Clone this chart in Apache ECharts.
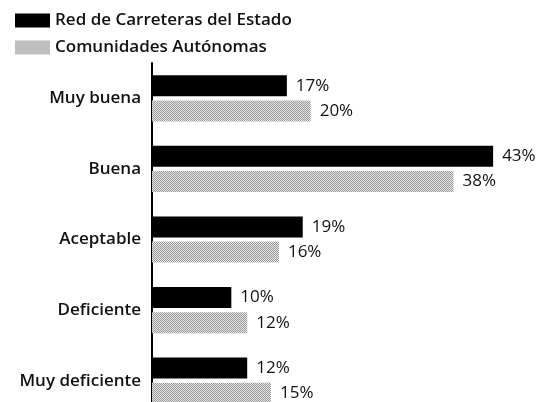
<!DOCTYPE html>
<html>
<head>
<meta charset="utf-8">
<script src="https://cdn.jsdelivr.net/npm/echarts@6/dist/echarts.min.js"></script>
<style>
  html, body { margin: 0; padding: 0; background: #fff; }
  #chart { width: 544px; height: 402px; }
</style>
</head>
<body>
<div id="chart"></div>
<script>
var categories = ['Muy buena', 'Buena', 'Aceptable', 'Deficiente', 'Muy deficiente']
var estado = [17, 43, 19, 10, 12]
var autonomas = [20, 38, 16, 12, 15]
var seriesNames = ['Red de Carreteras del Estado', 'Comunidades Autónomas']

// trama punteada gris (tablero fino)
function dotPattern () {
  var c = document.createElement('canvas')
  c.width = 2
  c.height = 2
  var ctx = c.getContext('2d')
  ctx.fillStyle = '#e6e6e6'
  ctx.fillRect(0, 0, 2, 2)
  ctx.fillStyle = '#999'
  ctx.fillRect(0, 0, 1, 1)
  ctx.fillRect(1, 1, 1, 1)
  return { image: c, repeat: 'repeat' }
}

var font = "'Open Sans', sans-serif"
var chart = echarts.init(document.getElementById('chart'))
var labelStyle = {
  show: true,
  position: 'right',
  distance: 9,
  formatter: '{c}%',
  color: '#111',
  fontSize: 17,
  fontFamily: font
}

var option = {
  animation: false,
  legend: {
    orient: 'vertical',
    left: 10,
    top: 7,
    itemWidth: 35,
    itemHeight: 14,
    itemGap: 10,
    icon: 'rect',
    data: seriesNames,
    textStyle: { fontSize: 17, fontWeight: 600, color: '#111', fontFamily: font }
  },
  grid: { left: 152, top: 63, width: 357, height: 353, outerBoundsMode: 'none' },
  xAxis: { type: 'value', min: 0, max: 45, show: false },
  yAxis: {
    type: 'category',
    inverse: true,
    data: categories,
    axisLine: { lineStyle: { color: '#000', width: 2 } },
    axisTick: { show: false },
    axisLabel: { margin: 11, color: '#111', fontSize: 17, fontWeight: 600, fontFamily: font }
  },
  series: [
    {
      name: seriesNames[0],
      type: 'bar',
      data: estado,
      barWidth: 21,
      barGap: '20%',
      itemStyle: { color: '#000' },
      label: labelStyle
    },
    {
      name: seriesNames[1],
      type: 'bar',
      data: autonomas,
      barWidth: 21,
      itemStyle: { color: dotPattern() },
      label: labelStyle
    }
  ]
}
chart.setOption(option)
</script>
</body>
</html>
